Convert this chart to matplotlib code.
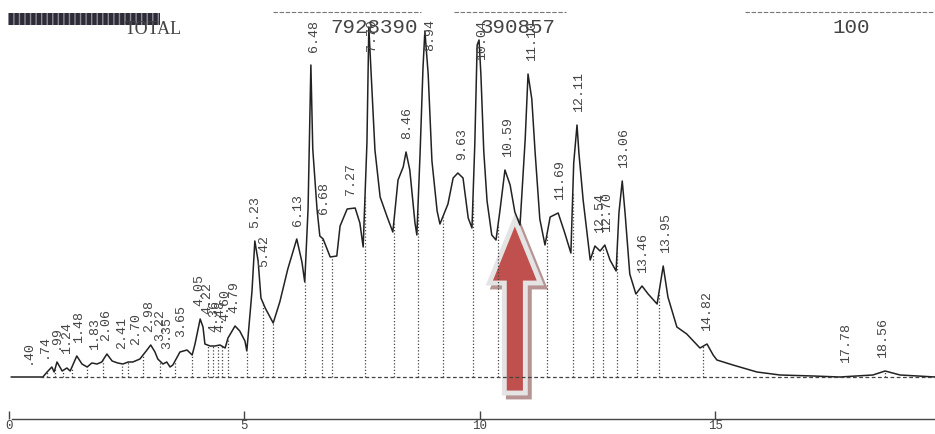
import matplotlib
matplotlib.use('Agg')
import matplotlib.pyplot as plt
import numpy as np
from matplotlib.patches import FancyArrow, Rectangle

# detector trace: time (min) and signal above baseline
trace_t = [0.05, 0.72, 0.81, 0.91, 0.96, 1.02, 1.13, 1.23, 1.30, 1.44, 1.55, 1.66, 1.76, 1.87,
           1.97, 2.08, 2.19, 2.31, 2.42, 2.53, 2.63, 2.78, 2.93, 3.01, 3.10, 3.16, 3.27, 3.35,
           3.42, 3.48, 3.63, 3.78, 3.89, 3.95, 4.06, 4.12, 4.16, 4.27, 4.37, 4.48, 4.59, 4.65,
           4.80, 4.90, 5.01, 5.05, 5.16, 5.22, 5.29, 5.35, 5.44, 5.61, 5.75, 5.92, 6.11, 6.22,
           6.28, 6.35, 6.41, 6.45, 6.54, 6.60, 6.67, 6.82, 6.96, 7.03, 7.18, 7.35, 7.45, 7.52,
           7.60, 7.64, 7.71, 7.77, 7.88, 8.03, 8.15, 8.26, 8.37, 8.43, 8.51, 8.62, 8.66, 8.73,
           8.79, 8.83, 8.90, 8.98, 9.09, 9.15, 9.32, 9.43, 9.53, 9.64, 9.75, 9.83, 9.89, 9.94,
           9.98, 10.02, 10.08, 10.15, 10.25, 10.34, 10.42, 10.53, 10.64, 10.74, 10.85, 10.96,
           11.02, 11.10, 11.17, 11.27, 11.38, 11.49, 11.66, 11.80, 11.93, 11.99, 12.06, 12.10,
           12.19, 12.34, 12.44, 12.55, 12.65, 12.76, 12.89, 12.95, 13.02, 13.08, 13.18, 13.31,
           13.44, 13.57, 13.76, 13.89, 13.99, 14.18, 14.39, 14.67, 14.82, 14.95, 15.03, 15.37,
           15.88, 16.37, 17.07, 17.64, 18.34, 18.60, 18.92, 19.66]
trace_h = [0, 0, 5, 10, 5, 15, 6, 9, 6, 21, 13, 10, 14, 13,
           15, 23, 16, 14, 13, 15, 15, 18, 27, 32, 25, 18, 13, 15,
           10, 12, 25, 27, 22, 33, 58, 50, 33, 31, 31, 32, 29, 39,
           51, 46, 36, 26, 86, 136, 116, 79, 69, 54, 75, 108, 138, 115,
           95, 168, 312, 228, 168, 141, 138, 120, 121, 151, 168, 169, 154, 130,
           234, 350, 284, 227, 180, 160, 145, 197, 210, 225, 207, 154, 142, 226,
           309, 346, 303, 216, 166, 153, 173, 199, 204, 199, 159, 149, 233, 332,
           337, 302, 226, 176, 142, 137, 165, 207, 192, 165, 152, 238,
           303, 278, 225, 158, 132, 160, 164, 144, 124, 214, 252, 224,
           177, 117, 131, 126, 132, 117, 106, 164, 196, 164, 103, 83,
           91, 83, 73, 111, 80, 50, 43, 29, 33, 22, 17, 12,
           5, 2, 1, 0, 2, 6, 2, 0]

# integration cut points (dotted drop lines)
cut_t = [0.81, 0.98, 1.15, 1.34, 1.66, 2.00, 2.40, 2.53, 2.85, 3.21, 3.53, 3.89, 4.23, 4.33,
         4.44, 4.52, 4.65, 5.05, 5.39, 5.61, 6.28, 6.65, 6.86, 7.56, 8.17, 8.68, 9.21, 9.85,
         10.38, 11.42, 11.97, 12.40, 12.61, 12.91, 13.33, 13.80, 14.74, 18.60]

# retention times printed above the peaks
peak_t = [0.40, 0.74, 0.99, 1.24, 1.48, 1.83, 2.06, 2.41, 2.70, 2.98, 3.22, 3.35, 3.65, 4.05,
          4.22, 4.36, 4.48, 4.60, 4.79, 5.23, 5.42, 6.13, 6.48, 6.68, 7.27, 7.70, 8.46, 8.94,
          9.63, 10.04, 10.59, 11.10, 11.69, 12.11, 12.54, 12.70, 13.06, 13.46, 13.95, 14.82,
          17.78, 18.56]

header_area = '7928390'
header_att = '390857'
header_scale = '100'
x_ticks = [0, 5, 10, 15]

ink = '#222222'
grey = '#444444'

fig = plt.figure(figsize=(9.35, 4.34), dpi=100)
ax = fig.add_axes([0, 15 / 434, 1, 419 / 434])
ax.set_xlim(-0.19, 19.66)
ax.set_ylim(-42, 377)

# trace, baseline and drop lines
ax.plot(trace_t, trace_h, color=ink, lw=1.1)
ax.plot([0.65, 19.66], [0, 0], color=grey, lw=0.9, ls=(0, (3, 2)))
cut_h = np.interp(cut_t, trace_t, trace_h)
ax.vlines(cut_t, 0, cut_h, colors=grey, lw=0.9, linestyles=(0, (1, 1.6)))

# peak labels
for pt in peak_t:
    lab = f'{pt:.2f}'
    if pt < 1:
        lab = lab[1:]
    win = np.linspace(pt - 0.1, pt + 0.1, 21)
    top = np.interp(win, trace_t, trace_h).max()
    ytxt = min(top + 13, 362 - 9 * len(lab))
    ax.text(pt, ytxt, lab, rotation=90, ha='center', va='bottom',
            family='Liberation Mono', fontsize=9.5, color=grey)

# red arrow with light outline and shadow
arr = dict(x=10.74, y=-16, dx=0, dy=173, width=0.446, head_width=1.083,
           head_length=63, length_includes_head=True)
shadow = FancyArrow(**{**arr, 'x': 10.74 + 4 / 47.1, 'y': -20},
                    facecolor='#b89393', edgecolor='#b89393', lw=3.5, joinstyle='miter')
ax.add_patch(shadow)
ax.add_patch(FancyArrow(**arr, facecolor='#c0504d', edgecolor='#e4e4e4', lw=3.5,
                        joinstyle='miter'))

# time axis
for s in ['left', 'right', 'top']:
    ax.spines[s].set_visible(False)
ax.spines['bottom'].set_color(grey)
ax.spines['bottom'].set_linewidth(1.0)
ax.spines['bottom'].set_bounds(0.06, 19.66)
ax.set_yticks([])
ax.set_xticks(x_ticks)
ax.set_xticklabels([str(v) for v in x_ticks], family='Liberation Mono', fontsize=9,
                   color=grey)
ax.tick_params(axis='x', direction='in', length=6, width=1, color=grey, pad=1)


def fx(x, y):
    return x / 935, 1 - y / 434


# header of the printout
fig.add_artist(Rectangle(fx(8, 25), 152 / 935, 12 / 434, transform=fig.transFigure,
                         facecolor='#2e2c36', edgecolor='#8c8a96', hatch='|||', lw=0))
fig.text(*fx(125, 34), 'TOTAL', family='Liberation Serif', fontsize=13, color=grey,
         va='baseline')
fig.text(*fx(330, 33), header_area, family='Liberation Mono', fontsize=15, color=grey,
         va='baseline')
fig.text(*fx(481, 33), header_att, family='Liberation Mono', fontsize=15, color=grey,
         va='baseline')
fig.text(*fx(832, 33), header_scale, family='Liberation Mono', fontsize=15, color=grey,
         va='baseline')
for x0, x1 in [(273, 421), (454, 566), (745, 935)]:
    fig.add_artist(plt.Line2D([x0 / 935, x1 / 935], [1 - 12 / 434] * 2, color='#777777',
                              lw=0.8, ls=(0, (4, 1.5)), transform=fig.transFigure))

fig.savefig('out.png', dpi=100)
